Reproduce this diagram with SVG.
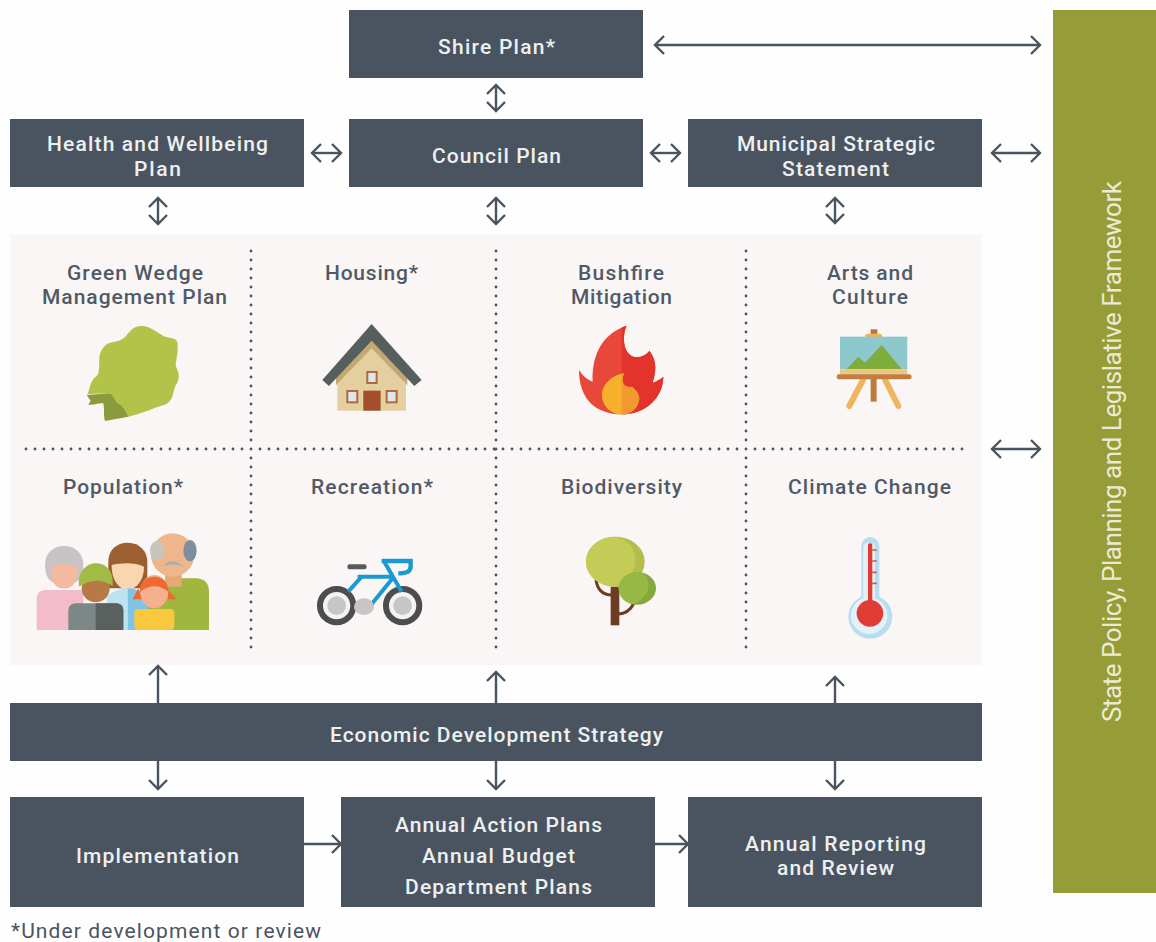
<svg xmlns="http://www.w3.org/2000/svg" width="1156" height="942" viewBox="0 0 1156 942">
<style>
text{font-family:"Roboto","Liberation Sans",sans-serif;font-weight:500;font-size:21px}
.box{fill:#4a5460}
.w{fill:#eef0f0}
.d{fill:#4f5a66}
.dot{fill:none;stroke:#4a5460;stroke-width:2.8;stroke-linecap:round;stroke-dasharray:0 9}
.c{fill:none;stroke:#4a5460;stroke-width:2.4}
.a2{marker-start:url(#h);marker-end:url(#h)}
.a1{marker-end:url(#h)}
</style>
<defs>
<marker id="h" markerUnits="userSpaceOnUse" viewBox="-12 -12 14 24" refX="0" refY="0" markerWidth="14" markerHeight="24" orient="auto-start-reverse">
<path d="M-9,-9 L0,0 L-9,9" fill="none" stroke="#4a5460" stroke-width="2.4"/>
</marker>
<clipPath id="fr"><rect x="365" y="240" width="200" height="300"/></clipPath>
</defs>
<rect width="1156" height="942" fill="#fefefe"/>
<rect id="panel" x="10" y="234" width="972" height="431" fill="#faf6f6"/>
<g id="grid">
<path class="dot" d="M251 251V650M496 251V650M746 251V650M26 449H970"/>
</g>
<g id="connectors">
<path class="c a2" d="M655 45H1040"/>
<path class="c a2" d="M496 85V111"/>
<path class="c a2" d="M312 153H341"/>
<path class="c a2" d="M651 153H680"/>
<path class="c a2" d="M992 153H1040"/>
<path class="c a2" d="M158 198V224"/>
<path class="c a2" d="M496 198V224"/>
<path class="c a2" d="M835 198V223"/>
<path class="c a2" d="M992 449H1040"/>
<path class="c a1" d="M158 703V666"/>
<path class="c a1" d="M496 703V672"/>
<path class="c a1" d="M835 703V677"/>
<path class="c a1" d="M158 761V789"/>
<path class="c a1" d="M496 761V789"/>
<path class="c a1" d="M835 761V789"/>
<path class="c a1" d="M304 844H341"/>
<path class="c a1" d="M655 844H688"/>
</g>
<g id="shire-plan"><rect class="box" x="349" y="10" width="294" height="68"/><text class="w" x="438" y="54" textLength="117">Shire Plan*</text></g>
<g id="council-plan"><rect class="box" x="349" y="119" width="294" height="68"/><text class="w" x="432" y="163" textLength="129">Council Plan</text></g>
<g id="health-plan"><rect class="box" x="10" y="119" width="294" height="68"/><text class="w" x="47" y="151" textLength="221">Health and Wellbeing</text><text class="w" x="134" y="176" textLength="47">Plan</text></g>
<g id="municipal-statement"><rect class="box" x="688" y="119" width="294" height="68"/><text class="w" x="737" y="151" textLength="198">Municipal Strategic</text><text class="w" x="782" y="176" textLength="107">Statement</text></g>
<g id="state-framework"><rect x="1053" y="10" width="103" height="883" fill="#969c38"/><text transform="translate(1121 722) rotate(-90)" x="0" y="0" textLength="541" style="font-size:26px;font-weight:400;fill:#ecebd2">State Policy, Planning and Legislative Framework</text></g>
<g id="economic-strategy"><rect class="box" x="10" y="703" width="972" height="58"/><text class="w" x="330" y="742" textLength="333">Economic Development Strategy</text></g>
<g id="implementation"><rect class="box" x="10" y="797" width="294" height="110"/><text class="w" x="76" y="863" textLength="163">Implementation</text></g>
<g id="annual-plans"><rect class="box" x="341" y="797" width="314" height="110"/><text class="w" x="395" y="832" textLength="207">Annual Action Plans</text><text class="w" x="422" y="863" textLength="153">Annual Budget</text><text class="w" x="405" y="894" textLength="187">Department Plans</text></g>
<g id="annual-reporting"><rect class="box" x="688" y="797" width="294" height="110"/><text class="w" x="745" y="851" textLength="181">Annual Reporting</text><text class="w" x="777" y="875" textLength="117">and Review</text></g>
<g id="green-wedge"><text class="d" x="67" y="280" textLength="136">Green Wedge</text><text class="d" x="42" y="304" textLength="185">Management Plan</text>
<g transform="translate(0 240) scale(.3333)">
<path fill="#b2c349" d="M425 258C450 258 470 278 495 290C515 296 532 292 533 312C535 335 528 360 527 378C535 395 541 410 532 428C518 445 524 465 510 482C495 500 480 495 462 505C445 512 430 517 415 522L385 530L350 485L330 460L262 462C270 450 268 430 283 413C298 405 296 395 298 375C296 350 300 330 318 314C335 303 360 308 378 288C392 272 400 258 425 258Z"/>
<path fill="#8a9b3c" d="M260 465L330 460C345 470 345 490 362 495C372 505 378 515 385 530L315 543C310 525 314 510 310 490C295 488 280 495 265 495L272 482Z"/>
</g></g>
<g id="housing"><text class="d" x="325" y="280" textLength="93">Housing*</text>
<g transform="translate(0 240) scale(.3333)">
<path fill="#e3cfa0" d="M1012 432L1115 310L1218 432V512H1012Z"/>
<path fill="#c2a873" d="M1115 295L1222 415V436L1115 325L1008 436V415Z"/>
<path fill="#575e5e" d="M1115 252L1265 420L1243 438L1115 302L987 438L967 420Z"/>
<g fill="#d9e8ea" stroke="#b5673f" stroke-width="6"><rect x="1102" y="396" width="28" height="33"/><rect x="1042" y="453" width="30" height="34"/><rect x="1160" y="453" width="30" height="34"/></g>
<rect x="1090" y="452" width="52" height="60" fill="#a34f2c"/>
</g></g>
<g id="bushfire"><text class="d" x="578" y="280" textLength="86">Bushfire</text><text class="d" x="571" y="304" textLength="101">Mitigation</text>
<g transform="translate(500 240) scale(.3333)">
<path fill="#e8483a" d="M365 523C290 523 237 480 237 390C250 410 265 420 278 425C275 340 310 280 380 257C365 290 370 340 400 350C420 355 440 345 448 332C470 360 470 390 458 428C470 425 480 418 490 410C490 470 440 523 365 523Z"/>
<path fill="#e2332c" clip-path="url(#fr)" d="M365 523C290 523 237 480 237 390C250 410 265 420 278 425C275 340 310 280 380 257C365 290 370 340 400 350C420 355 440 345 448 332C470 360 470 390 458 428C470 425 480 418 490 410C490 470 440 523 365 523Z"/>
<path fill="#f5b12c" d="M365 523C330 523 306 495 306 465C306 435 335 405 372 400C362 425 370 445 395 440C410 450 418 465 418 475C415 505 395 523 365 523Z"/>
<path fill="#f29a30" clip-path="url(#fr)" d="M365 523C330 523 306 495 306 465C306 435 335 405 372 400C362 425 370 445 395 440C410 450 418 465 418 475C415 505 395 523 365 523Z"/>
</g></g>
<g id="arts"><text class="d" x="827" y="280" textLength="86">Arts and</text><text class="d" x="832" y="304" textLength="76">Culture</text>
<g transform="translate(500 240) scale(.3333)">
<rect x="1112" y="268" width="20" height="14" fill="#b5743a"/><rect x="1095" y="281" width="52" height="18" rx="9" fill="#f0b35a"/>
<rect x="1020" y="290" width="202" height="98" fill="#8cc8cc"/>
<path fill="#7fad3c" d="M1040 387L1075 350L1095 368L1145 315L1205 387Z"/>
<rect x="1020" y="388" width="202" height="15" fill="#f0c67c"/>
<path stroke="#eeb55e" stroke-width="18" stroke-linecap="round" d="M1090 418L1048 498M1155 418L1195 498"/>
<rect x="1112" y="415" width="18" height="70" fill="#bd7c3e"/>
<rect x="1010" y="403" width="225" height="15" rx="7" fill="#c17f3f"/>
</g></g>
<g id="population"><text class="d" x="63" y="494" textLength="120">Population*</text>
<g transform="translate(0 460) scale(.3333)">
<path fill="#c8c3c6" d="M135 315C135 280 160 258 192 258C225 258 250 280 250 315C250 345 240 375 192 375C145 375 135 345 135 315Z"/>
<path fill="#f5b8a0" d="M153 320C165 310 220 310 232 320C235 355 225 385 192 385C160 385 150 355 153 320Z"/>
<path fill="#f2bccb" d="M135 390H250V510H110V415Q110 392 135 390Z"/>
<path fill="#a0b63f" d="M510 355H590Q627 358 627 395V510H400V400Z"/>
<rect x="495" y="335" width="50" height="45" fill="#e6a877"/>
<circle cx="518" cy="285" r="65" fill="#eeb68a"/>
<ellipse cx="472" cy="272" rx="22" ry="30" fill="#c8c4be"/><ellipse cx="570" cy="272" rx="20" ry="32" fill="#7d8f9c"/>
<path fill="#aab0b2" d="M490 318Q515 288 552 320Q520 308 490 318Z"/>
<path fill="#9b5f30" d="M325 305C325 270 350 248 383 248C420 248 442 275 442 305V385H325Z"/>
<path fill="#f8d7b0" d="M335 315C360 310 400 305 432 320C432 360 410 388 383 388C355 388 335 360 335 315Z"/>
<path fill="#bde2f1" d="M320 410Q350 385 383 385V510H320Z"/>
<path fill="#7fc4e4" d="M383 385Q420 385 445 415V510H383Z"/>
<path fill="#7d8785" d="M225 430H350Q370 432 370 450V510H205V450Q207 432 225 430Z"/>
<path fill="#59615f" d="M287 430H350Q370 432 370 450V510H287Z"/>
<ellipse cx="287" cy="385" rx="42" ry="42" fill="#b87a45"/>
<path fill="#a2bb45" d="M237 380C232 335 260 310 287 310C320 310 342 335 338 378Q287 345 237 380Z"/>
<path fill="#f0672f" d="M398 418L415 385L428 418ZM500 385L530 418H505Z"/>
<rect x="403" y="447" width="120" height="63" rx="12" fill="#fac83f"/>
<ellipse cx="463" cy="395" rx="42" ry="50" fill="#f5b090"/>
<path fill="#ef6a32" d="M420 395C418 365 440 350 463 350C490 350 507 370 505 395Q465 362 420 395Z"/>
</g></g>
<g id="recreation"><text class="d" x="311" y="494" textLength="122">Recreation*</text>
<g transform="translate(0 460) scale(.3333)">
<circle cx="1010" cy="437" r="50" fill="#f4f2f2" stroke="#4d4d4f" stroke-width="18"/>
<circle cx="1208" cy="437" r="50" fill="#f4f2f2" stroke="#4d4d4f" stroke-width="18"/>
<circle cx="1010" cy="437" r="28" fill="#c8c5c5"/><circle cx="1208" cy="437" r="28" fill="#c8c5c5"/>
<path fill="none" stroke="#1a9ad0" stroke-width="12" d="M1073 350H1178M1150 300L1205 395M1178 355L1105 445M1085 350L1045 395"/>
<path fill="none" stroke="#1a9ad0" stroke-width="13" d="M1145 303H1232V320Q1232 340 1195 340"/>
<rect x="1042" y="313" width="58" height="15" rx="7" fill="#5a5a5a"/>
<ellipse cx="1092" cy="440" rx="30" ry="25" fill="#c8c5c5"/>
</g></g>
<g id="biodiversity"><text class="d" x="561" y="494" textLength="121">Biodiversity</text>
<g transform="translate(500 460) scale(.3333)">
<path fill="none" stroke="#6e3c22" stroke-width="9" d="M335 405Q295 405 288 360M355 462Q385 462 402 430"/>
<rect x="332" y="380" width="26" height="116" fill="#6e3c22"/>
<ellipse cx="346" cy="305" rx="88" ry="75" fill="#b3bd4b"/>
<path fill="#c4cc58" d="M346 230C300 230 258 260 258 305C258 345 295 378 340 380C385 370 410 330 405 290C400 260 385 240 346 230Z"/>
<ellipse cx="412" cy="385" rx="56" ry="49" fill="#85a83c"/>
<path fill="#96b844" d="M412 336C380 336 356 360 356 385C356 410 375 430 400 433C430 420 450 395 445 365C438 345 430 338 412 336Z"/>
</g></g>
<g id="climate-change"><text class="d" x="788" y="494" textLength="163">Climate Change</text>
<g transform="translate(500 460) scale(.3333)">
<path fill="#b9dcef" d="M1084 258A27 27 0 0 1 1138 258V410A66 66 0 1 1 1084 410Z"/>
<path fill="#e3f1f8" d="M1090 258A20 20 0 0 1 1125 258V415A55 55 0 1 1 1090 415Z"/>
<path stroke="#d1504a" stroke-width="5" d="M1117 270H1130M1117 303H1130M1117 337H1130M1117 370H1130"/>
<rect x="1104" y="250" width="13" height="190" rx="5" fill="#e13b35"/>
<circle cx="1110" cy="460" r="40" fill="#e13b35"/>
</g></g>
<g id="footnote"><text x="11" y="938" textLength="310" style="font-weight:400;fill:#4a5460">*Under development or review</text></g>
</svg>
